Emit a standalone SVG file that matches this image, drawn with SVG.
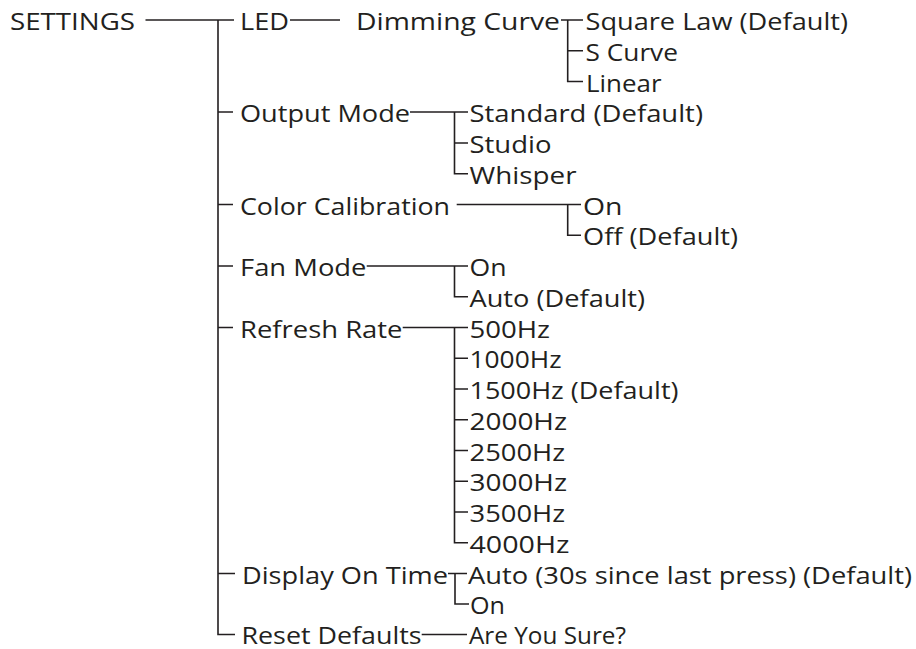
<svg xmlns="http://www.w3.org/2000/svg" width="916" height="649" viewBox="0 0 916 649">
<style>
text{font-family:"Open Sans","DejaVu Sans","Liberation Sans",sans-serif;font-size:23.5px;fill:#231f20}
.c path{fill:none;stroke:#231f20;stroke-width:1.6}
</style>
<rect width="916" height="649" fill="#ffffff"/>
<g class="c" id="connectors">
<path d="M145.5 20H234"/>
<path d="M218 20V634.5H235"/>
<path d="M218 112H233M218 204.5H233M218 266H233M218 327.5H233M218 573.5H235"/>
<path d="M290 20H340"/>
<path d="M561 20H583M567.7 20V81.5H583M567.7 50.75H583"/>
<path d="M410 112H468M454.5 112V173.75H468M454.5 143H468"/>
<path d="M456.7 204.5H581M567.7 204.5V235.25H581"/>
<path d="M366.7 266H468M454.5 266V296.75H468"/>
<path d="M402.7 327.5H468M454.5 327.5V542.75H468M454.5 358.25H468M454.5 389H468M454.5 419.75H468M454.5 450.5H468M454.5 481.25H468M454.5 512H468"/>
<path d="M448 573.5H467M455 573.5V604H469"/>
<path d="M421.7 634.5H467"/>
</g>
<g id="settings"><text x="10" y="30" textLength="125" lengthAdjust="spacingAndGlyphs">SETTINGS</text></g>
<g id="led"><text x="240" y="30" textLength="49" lengthAdjust="spacingAndGlyphs">LED</text></g>
<g id="dimming-curve"><text x="356" y="30" textLength="204" lengthAdjust="spacingAndGlyphs">Dimming Curve</text></g>
<g id="square-law"><text x="585.5" y="30" textLength="262.5" lengthAdjust="spacingAndGlyphs">Square Law (Default)</text></g>
<g id="s-curve"><text x="585.5" y="60.75" textLength="92.5" lengthAdjust="spacingAndGlyphs">S Curve</text></g>
<g id="linear"><text x="586" y="91.5" textLength="75.5" lengthAdjust="spacingAndGlyphs">Linear</text></g>
<g id="output-mode"><text x="240" y="122.25" textLength="170" lengthAdjust="spacingAndGlyphs">Output Mode</text></g>
<g id="standard"><text x="469.5" y="122.25" textLength="233.5" lengthAdjust="spacingAndGlyphs">Standard (Default)</text></g>
<g id="studio"><text x="469.5" y="153" textLength="82" lengthAdjust="spacingAndGlyphs">Studio</text></g>
<g id="whisper"><text x="469.5" y="183.75" textLength="107" lengthAdjust="spacingAndGlyphs">Whisper</text></g>
<g id="color-calibration"><text x="240" y="214.5" textLength="210" lengthAdjust="spacingAndGlyphs">Color Calibration</text></g>
<g id="color-on"><text x="583" y="214.5" textLength="39.5" lengthAdjust="spacingAndGlyphs">On</text></g>
<g id="color-off"><text x="583" y="245.25" textLength="155" lengthAdjust="spacingAndGlyphs">Off (Default)</text></g>
<g id="fan-mode"><text x="240" y="276" textLength="126.5" lengthAdjust="spacingAndGlyphs">Fan Mode</text></g>
<g id="fan-on"><text x="469.5" y="276" textLength="37" lengthAdjust="spacingAndGlyphs">On</text></g>
<g id="fan-auto"><text x="469.5" y="306.75" textLength="175.5" lengthAdjust="spacingAndGlyphs">Auto (Default)</text></g>
<g id="refresh-rate"><text x="240" y="337.5" textLength="162.5" lengthAdjust="spacingAndGlyphs">Refresh Rate</text></g>
<g id="hz500"><text x="469.5" y="337.5" textLength="80.5" lengthAdjust="spacingAndGlyphs">500Hz</text></g>
<g id="hz1000"><text x="469.5" y="368.25" textLength="92" lengthAdjust="spacingAndGlyphs">1000Hz</text></g>
<g id="hz1500"><text x="469.5" y="399" textLength="209" lengthAdjust="spacingAndGlyphs">1500Hz (Default)</text></g>
<g id="hz2000"><text x="469.5" y="429.75" textLength="97.5" lengthAdjust="spacingAndGlyphs">2000Hz</text></g>
<g id="hz2500"><text x="469.5" y="460.5" textLength="95.5" lengthAdjust="spacingAndGlyphs">2500Hz</text></g>
<g id="hz3000"><text x="469.5" y="491.25" textLength="97.5" lengthAdjust="spacingAndGlyphs">3000Hz</text></g>
<g id="hz3500"><text x="469.5" y="522" textLength="95.5" lengthAdjust="spacingAndGlyphs">3500Hz</text></g>
<g id="hz4000"><text x="469.5" y="552.75" textLength="100" lengthAdjust="spacingAndGlyphs">4000Hz</text></g>
<g id="display-on-time"><text x="242" y="583.5" textLength="206" lengthAdjust="spacingAndGlyphs">Display On Time</text></g>
<g id="display-auto"><text x="468" y="583.5" textLength="444" lengthAdjust="spacingAndGlyphs">Auto (30s since last press) (Default)</text></g>
<g id="display-on"><text x="470" y="614.25" textLength="35" lengthAdjust="spacingAndGlyphs">On</text></g>
<g id="reset-defaults"><text x="241.5" y="643.5" textLength="180" lengthAdjust="spacingAndGlyphs">Reset Defaults</text></g>
<g id="are-you-sure"><text x="469" y="643.5" textLength="157" lengthAdjust="spacingAndGlyphs">Are You Sure?</text></g>
</svg>
